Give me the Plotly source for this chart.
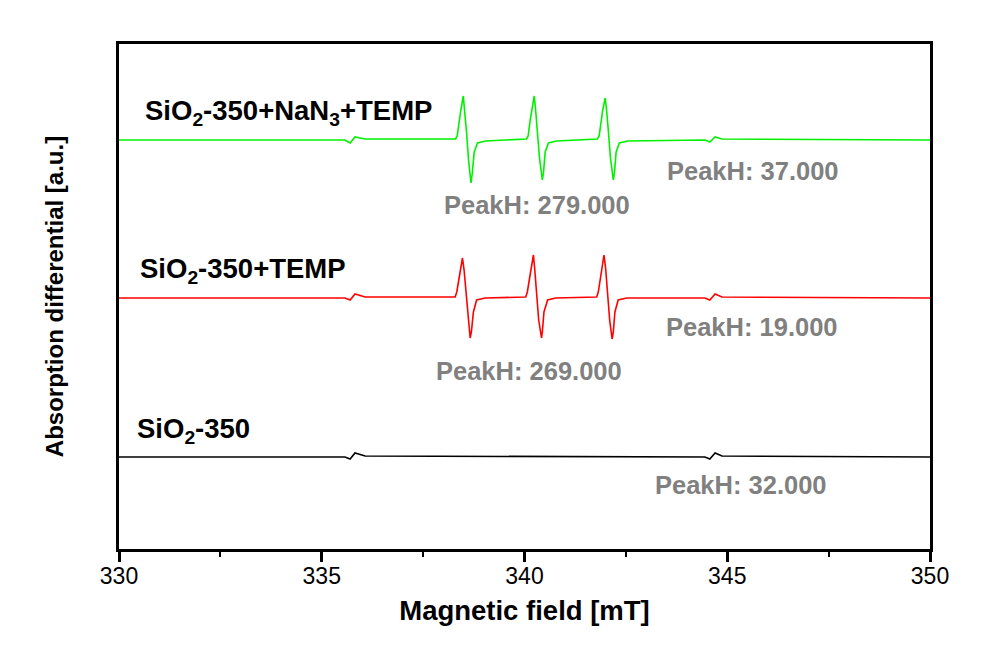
import plotly.graph_objects as go

# ---- data ----
field_black = [330, 335.57, 335.70, 335.82, 336.07, 344.45, 344.57, 344.70, 344.87, 350]
sig_black = [0, 0, -2, 4, 1, 0, -2, 4, 1, 0]

field_red = [330, 335.57, 335.70, 335.82, 336.07,
             338.29, 338.33, 338.37, 338.42, 338.47, 338.51, 338.56, 338.61, 338.66, 338.69, 338.74, 338.82, 339.03,
             340.03, 340.07, 340.11, 340.17, 340.22, 340.25, 340.30, 340.35, 340.42, 340.44, 340.48, 340.57, 340.77,
             341.78, 341.82, 341.86, 341.91, 341.96, 342.00, 342.05, 342.10, 342.16, 342.19, 342.23, 342.31, 342.52,
             344.45, 344.57, 344.70, 344.87, 350]
sig_red = [0, 0, -2, 4, 1,
           1, 6, 16, 30, 40, 28, 5, -22, -40, -34, -14, -2, 0,
           1, 6, 16, 30, 43, 30, 5, -22, -40, -34, -14, -2, 0,
           1, 6, 16, 30, 43, 30, 5, -22, -41, -34, -14, -2, 0,
           0, -2, 4, 1, 0]

field_green = [330, 335.57, 335.70, 335.82, 336.07,
               338.30, 338.34, 338.39, 338.43, 338.49, 338.52, 338.57, 338.62, 338.68, 338.71, 338.76, 338.84, 339.04,
               340.05, 340.09, 340.14, 340.18, 340.24, 340.27, 340.32, 340.37, 340.44, 340.47, 340.51, 340.59, 340.79,
               341.80, 341.84, 341.89, 341.93, 341.99, 342.02, 342.07, 342.12, 342.19, 342.22, 342.26, 342.34, 342.54,
               344.45, 344.57, 344.70, 344.87, 350]
sig_green = [0, 0, -3, 3, 1,
             1, 4, 20, 30, 44, 32, 8, -20, -43, -34, -12, -3, -1,
             1, 4, 20, 30, 44, 32, 8, -18, -40, -32, -12, -3, -1,
             1, 4, 20, 30, 42, 32, 8, -18, -40, -32, -12, -3, -1,
             0, -2, 3, 1, 0]

offsets = {"black": 0, "red": 159, "green": 317}

series_labels = ["SiO<sub>2</sub>-350", "SiO<sub>2</sub>-350+TEMP", "SiO<sub>2</sub>-350+NaN<sub>3</sub>+TEMP"]
peak_labels = ["PeakH: 32.000", "PeakH: 19.000", "PeakH: 269.000", "PeakH: 37.000", "PeakH: 279.000"]

x_ticks = [330, 335, 340, 345, 350]

FONT = "Liberation Sans, Arial, sans-serif"

fig = go.Figure()
for fx, sy, col, key in [(field_black, sig_black, "#000000", "black"),
                         (field_red, sig_red, "#FF0000", "red"),
                         (field_green, sig_green, "#00F000", "green")]:
    fig.add_trace(go.Scatter(x=fx, y=[v + offsets[key] for v in sy], mode="lines",
                             line=dict(color=col, width=1.6), showlegend=False, hoverinfo="skip"))

# series labels
lab_pos = [(330.39, 27), (330.48, 187), (330.59, 345)]
for (lx, ly), txt in zip(lab_pos, series_labels):
    fig.add_annotation(x=lx, y=ly, xref="x", yref="y", text="<b>" + txt + "</b>", showarrow=False,
                       xanchor="left", yanchor="middle", font=dict(family=FONT, size=27.5, color="#000000"))

# PeakH labels
pk_pos = [(345.34, -28), (345.60, 130), (340.12, 86), (345.63, 286), (340.32, 252)]
for (px, py), txt in zip(pk_pos, peak_labels):
    fig.add_annotation(x=px, y=py, xref="x", yref="y", text="<b>" + txt + "</b>", showarrow=False,
                       xanchor="center", yanchor="middle", font=dict(family=FONT, size=25.5, color="#808080"))

fig.update_layout(
    width=988, height=647,
    margin=dict(l=111, r=66, t=36, b=106),
    paper_bgcolor="white", plot_bgcolor="white",
    font=dict(family=FONT, color="#000000"),
)
fig.update_xaxes(range=[330, 350], tickvals=x_ticks, ticktext=[str(t) for t in x_ticks],
                 ticks="outside", ticklen=10, tickwidth=3, tickcolor="black",
                 minor=dict(dtick=2.5, ticks="outside", ticklen=5, tickwidth=2, tickcolor="black"),
                 showline=True, linewidth=3, linecolor="black", mirror=True,
                 showgrid=False, zeroline=False, ticklabelstandoff=-6,
                 tickfont=dict(family=FONT, size=23, color="black"),
                 title=dict(text="<b>Magnetic field [mT]</b>", font=dict(family=FONT, size=27.5, color="black"),
                            standoff=14))
fig.update_yaxes(range=[-92, 413], showticklabels=False, ticks="",
                 showline=True, linewidth=3, linecolor="black", mirror=True,
                 showgrid=False, zeroline=False,
                 title=dict(text="<b>Absorption differential [a.u.]</b>",
                            font=dict(family=FONT, size=24, color="black"), standoff=46))

fig.write_html("out.html")
